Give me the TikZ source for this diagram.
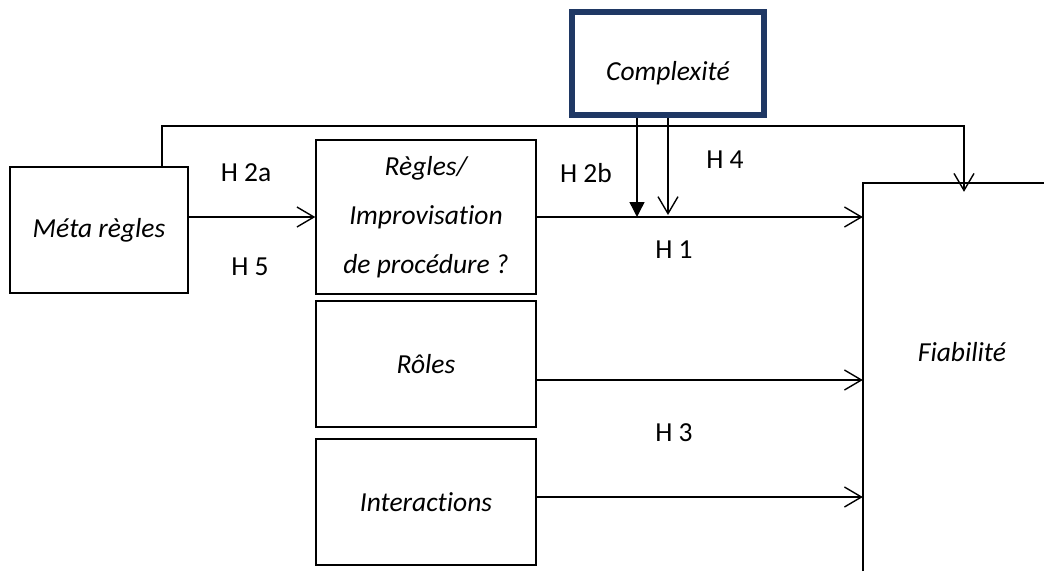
\documentclass[tikz,border=0pt]{standalone}
\usepackage{fontspec}
\setmainfont[Ligatures=NoCommon]{Carlito}
\usetikzlibrary{arrows.meta,calc}
\definecolor{navy}{RGB}{31,56,100}
\begin{document}
\begin{tikzpicture}[x=1pt,y=-1pt,
  txt/.style={font=\fontsize{27.5}{30}\selectfont},
  box/.style={draw, line width=1.4pt, inner sep=0pt, align=center, font=\itshape\fontsize{27.5}{49}\selectfont},
  conn/.style={line width=1.4pt},
  open/.style={conn, -{Straight Barb[length=17pt,width=20pt,line width=1.4pt]}},
  filled/.style={conn, -{Triangle[length=15pt,width=15pt]}}]
\useasboundingbox (0,0) rectangle (1044,571);
% boxes
\node[box, minimum width=178pt, minimum height=126pt] (meta) at (99,230) {Méta règles};
\node[box, minimum width=220pt, minimum height=154pt] (regles) at (426,217) {Règles/\\Improvisation\\de procédure ?};
\node[box, minimum width=220pt, minimum height=126pt] (roles) at (426,364) {Rôles};
\node[box, minimum width=220pt, minimum height=126pt] (inter) at (426,502) {Interactions};
\node[box, draw=navy, line width=5.5pt, minimum width=192pt, minimum height=103pt,
      label={[font=\itshape\fontsize{27.5}{30}\selectfont, yshift=-10pt]center:Complexité}] (cplx) at (668,63.5) {};
\node[inner sep=0pt, minimum width=181pt, minimum height=388pt] (fiab) at (953.5,377) {};
\draw[line width=1.4pt] (fiab.south west) -- (fiab.north west) -- (fiab.north east);
\node[font=\itshape\fontsize{27.5}{30}\selectfont] (fiabtxt) at (962,352) {Fiabilité};
% loop
\coordinate (loopL) at (162,126);
\coordinate (loopR) at (964,126);
\draw[open] (meta.north -| loopL) -- (loopL) -- (loopR) -- ($(fiab.north -| loopR)+(0,9)$);
% arrows
\coordinate (rolesOut) at ($(roles.east)+(0,16)$);
\coordinate (interOut) at ($(inter.east)+(0,-5)$);
\draw[open] (meta.east |- regles.west) -- (regles.west);
\draw[open] (regles.east) -- (fiab.west |- regles.east);
\draw[open] (rolesOut) -- (fiab.west |- rolesOut);
\draw[open] (interOut) -- (fiab.west |- interOut);
\draw[filled] ([xshift=-31pt]cplx.south) -- ([xshift=-31pt]cplx.south |- regles.east);
\draw[open] (cplx.south) -- ($(cplx.south |- regles.east)+(0,-2)$);
% labels
\node[txt] (h2a) at (246,173) {H 2a};
\node[txt] (h5) at (250,267) {H 5};
\node[txt] (h2b) at (586,173) {H 2b};
\node[txt] (h4) at (725,160) {H 4};
\node[txt] (h1) at (674,250) {H 1};
\node[txt] (h3) at (674,433) {H 3};
\end{tikzpicture}
\end{document}
